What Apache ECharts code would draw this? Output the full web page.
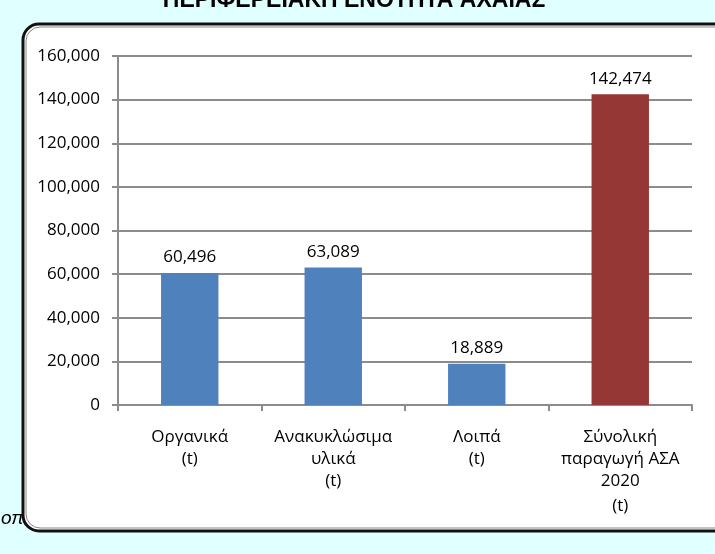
<!DOCTYPE html>
<html>
<head>
<meta charset="utf-8">
<script src="https://cdn.jsdelivr.net/npm/echarts@6/dist/echarts.min.js"></script>
<style>
html,body{margin:0;padding:0;background:#E0FFFF;}
#c{width:715px;height:554px;}
</style>
</head>
<body>
<div id="c"></div>
<script>
const titleText = 'ΠΕΡΙΦΕΡΕΙΑΚΗ ΕΝΟΤΗΤΑ ΑΧΑΪΑΣ';
const categories = ['Οργανικά\n(t)', 'Ανακυκλώσιμα\nυλικά\n(t)', 'Λοιπά\n(t)', 'Σύνολική\nπαραγωγή ΑΣΑ\n2020\n(t)'];
const values = [60496, 63089, 18889, 142474];
const barColors = ['#4F81BD', '#4F81BD', '#4F81BD', '#953735'];
const yTicks = [0, 20000, 40000, 60000, 80000, 100000, 120000, 140000, 160000];
const sourceFragment = 'οπ';

const FONT = 'Open Sans';
const FS = 17;
const chart = echarts.init(document.getElementById('c'));
const fmt = v => Number(v).toLocaleString('en-US');

chart.setOption({
  backgroundColor: '#E0FFFF',
  animation: false,
  title: {
    text: titleText,
    left: 349,
    textAlign: 'center',
    top: -16,
    textStyle: {fontFamily: 'Liberation Sans', fontWeight: 'bold', fontSize: 23, color: '#000'}
  },
  graphic: [
    {type: 'text', left: 1, top: 509, z: -5, style: {text: sourceFragment, font: 'italic 19px "Liberation Sans"', fill: '#000'}},
    {type: 'rect', z: -3, shape: {x: 23, y: 24, width: 720, height: 507, r: 16}, style: {fill: '#fff', stroke: '#111', lineWidth: 3}},
    {type: 'rect', z: -2, shape: {x: 26, y: 27, width: 714, height: 501, r: 14}, style: {fill: 'none', stroke: '#888', lineWidth: 1}}
  ],
  grid: {left: 118, right: 23, top: 56, bottom: 149, containLabel: false},
  xAxis: {
    type: 'category',
    data: categories,
    axisLine: {lineStyle: {color: '#8c8c8c', width: 2}},
    axisTick: {show: true, length: 6, lineStyle: {color: '#8c8c8c', width: 2}},
    axisLabel: {
      interval: 0, margin: 21, color: '#000', fontFamily: FONT, fontSize: FS, lineHeight: 22,
      formatter: function (v) {
        const parts = v.split('\n');
        if (parts.length === 4) {
          return parts.slice(0, 3).join('\n') + '\n{t|' + parts[3] + '}';
        }
        return v;
      },
      rich: {t: {fontFamily: FONT, fontSize: FS, color: '#000', lineHeight: 28}}
    }
  },
  yAxis: {
    type: 'value',
    min: yTicks[0],
    max: yTicks[yTicks.length - 1],
    interval: yTicks[1] - yTicks[0],
    axisLine: {show: true, lineStyle: {color: '#8c8c8c', width: 2}},
    axisTick: {show: true, inside: false, length: 6, lineStyle: {color: '#8c8c8c', width: 2}},
    splitLine: {lineStyle: {color: '#8c8c8c', width: 2}},
    axisLabel: {margin: 18, color: '#000', fontFamily: FONT, fontSize: FS, formatter: fmt}
  },
  series: [{
    type: 'bar',
    data: values.map((v, i) => ({value: v, itemStyle: {color: barColors[i]}})),
    barWidth: '40%',
    label: {show: true, position: 'top', distance: 7, color: '#000', fontFamily: FONT, fontSize: FS, formatter: p => fmt(p.value)}
  }]
});
</script>
</body>
</html>
